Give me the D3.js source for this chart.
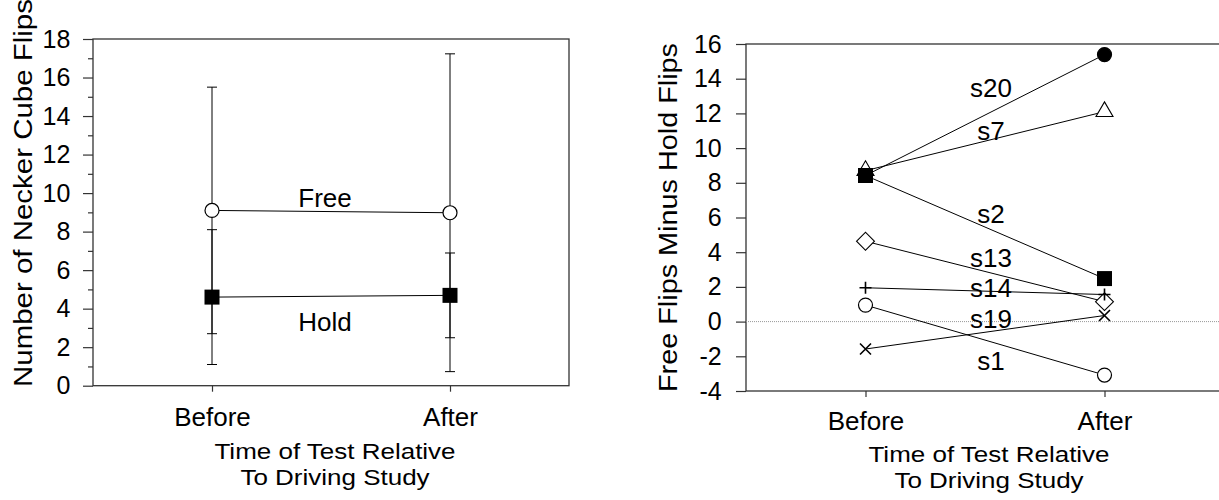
<!DOCTYPE html>
<html>
<head>
<meta charset="utf-8">
<script src="https://cdn.jsdelivr.net/npm/d3@7"></script>
<style>
  html, body { margin: 0; padding: 0; background: #fff; }
  svg { display: block; }
  text { font-family: "Liberation Sans", Arial, Helvetica, sans-serif; fill: #000; }
</style>
</head>
<body>
<svg id="chart" width="1219" height="500"></svg>
<script>
// ---------- data ----------
const timepoints = ["Before", "After"];

// left panel: group means and SDs
const freeMeans = [9.1, 8.98];
const freeSD = [6.4, 8.25];
const holdMeans = [4.6, 4.69];
const holdSD = [3.5, 2.2];
const leftTicks = [0, 2, 4, 6, 8, 10, 12, 14, 16, 18];
const leftMinorTicks = [1, 3, 5, 7, 9, 11, 13, 15, 17];
const groupLabels = ["Free", "Hold"];
const groupLabelAt = [9.29, 2.85];

// right panel: per-subject Free minus Hold
const subjects = ["s20", "s7", "s2", "s13", "s14", "s19", "s1"];
const beforeDiff = [8.42, 8.7, 8.42, 4.63, 1.95, -1.58, 0.95];
const afterDiff = [15.39, 12.1, 2.48, 1.15, 1.56, 0.35, -3.08];
const subjectMarkers = ["filledCircle", "triangle", "square", "diamond", "plus", "cross", "circle"];
const subjectLabelAt = [12.94, 10.44, 5.70, 3.13, 1.40, -0.39, -2.77];
const rightTicks = [-4, -2, 0, 2, 4, 6, 8, 10, 12, 14, 16];

const xTitleLines = ["Time of Test Relative", "To Driving Study"];
const leftYTitle = "Number of Necker Cube Flips";
const rightYTitle = "Free Flips Minus Hold Flips";

// ---------- drawing ----------
const svg = d3.select("#chart");
const TICKFONT = 25;
const LABELFONT = 26;
const axisColor = "#333";
const fmt = d => String(d);

function drawMarker(g, type, x, y) {
  if (type === "filledCircle" || type === "circle") {
    g.append("circle").attr("cx", x).attr("cy", y).attr("r", 7)
      .attr("fill", type === "filledCircle" ? "#000" : "#fff")
      .attr("stroke", "#000").attr("stroke-width", 1.2);
  } else if (type === "square") {
    g.append("path").attr("d", d3.symbol(d3.symbolSquare, 225)())
      .attr("transform", `translate(${x},${y})`).attr("fill", "#000");
  } else if (type === "triangle") {
    g.append("path").attr("d", d3.symbol(d3.symbolTriangle, 125)())
      .attr("transform", `translate(${x},${y})`)
      .attr("fill", "#fff").attr("stroke", "#000").attr("stroke-width", 1.1);
  } else if (type === "diamond") {
    g.append("path").attr("d", d3.symbol(d3.symbolSquare, 160)())
      .attr("transform", `translate(${x},${y}) rotate(45)`)
      .attr("fill", "#fff").attr("stroke", "#000").attr("stroke-width", 1.1);
  } else if (type === "plus") {
    const s = 6;
    g.append("path").attr("d", `M${x - s},${y}H${x + s}M${x},${y - s}V${y + s}`)
      .attr("stroke", "#000").attr("stroke-width", 1.6);
  } else if (type === "cross") {
    const s = 5.5;
    g.append("path").attr("d", `M${x - s},${y - s}L${x + s},${y + s}M${x - s},${y + s}L${x + s},${y - s}`)
      .attr("stroke", "#000").attr("stroke-width", 1.6);
  }
}

function styleAxis(size) {
  return g => {
    g.select(".domain").remove();
    g.selectAll(".tick line").attr("stroke", axisColor).attr("stroke-width", 1.2);
    g.selectAll(".tick text").attr("font-size", size).attr("fill", "#000");
  };
}

// two-line x title, glyphs slightly flattened like the reference
function xTitle(g, cx, y0, gap) {
  xTitleLines.forEach((line, i) => {
    g.append("text")
      .attr("transform", `translate(${cx},${y0 + i * gap}) scale(1,0.88)`)
      .attr("text-anchor", "middle").attr("font-size", LABELFONT).text(line);
  });
}

// ===== LEFT PANEL =====
const xL = d3.scalePoint().domain(timepoints).range([93, 569]).padding(0.5);
const yL = d3.scaleLinear().domain([0, 18]).range([385.7, 39]);
const L = svg.append("g");

L.append("g").attr("transform", `translate(${xL.range()[0]},0)`)
  .call(d3.axisLeft(yL).tickValues(leftTicks).tickSize(10).tickPadding(12.6).tickFormat(fmt))
  .call(styleAxis(TICKFONT));
L.append("g").attr("transform", `translate(${xL.range()[0]},0)`)
  .call(d3.axisLeft(yL).tickValues(leftMinorTicks).tickSize(5).tickFormat(""))
  .call(styleAxis(TICKFONT));
L.append("g").attr("transform", `translate(0,${yL.range()[0]})`)
  .call(d3.axisBottom(xL).tickSize(6).tickPadding(16))
  .call(styleAxis(LABELFONT));

L.append("rect")
  .attr("x", xL.range()[0]).attr("y", yL.range()[1])
  .attr("width", xL.range()[1] - xL.range()[0]).attr("height", yL.range()[0] - yL.range()[1])
  .attr("fill", "none").attr("stroke", axisColor).attr("stroke-width", 1.3);

// error bars
const groups = [
  { means: freeMeans, sd: freeSD, marker: "circle" },
  { means: holdMeans, sd: holdSD, marker: "square" }
];
groups.forEach(gr => {
  timepoints.forEach((t, i) => {
    const x = xL(t), lo = yL(gr.means[i] - gr.sd[i]), hi = yL(gr.means[i] + gr.sd[i]);
    L.append("path")
      .attr("d", `M${x},${lo}V${hi}M${x - 5},${lo}H${x + 5}M${x - 5},${hi}H${x + 5}`)
      .attr("stroke", "#000").attr("stroke-width", 1).attr("fill", "none");
  });
});
groups.forEach(gr => {
  L.append("path")
    .attr("d", d3.line()(timepoints.map((t, i) => [xL(t), yL(gr.means[i])])))
    .attr("stroke", "#000").attr("stroke-width", 1).attr("fill", "none");
});
groups.forEach(gr => {
  timepoints.forEach((t, i) => drawMarker(L, gr.marker, xL(t), yL(gr.means[i])));
});
groupLabels.forEach((lab, i) => {
  L.append("text").attr("x", (xL("Before") + xL("After")) / 2 - 6).attr("y", yL(groupLabelAt[i]))
    .attr("text-anchor", "middle").attr("font-size", LABELFONT).text(lab);
});

// axis titles
L.append("text").attr("transform", `translate(32,387) rotate(-90)`)
  .attr("text-anchor", "start").attr("font-size", 26)
  .attr("textLength", 388).attr("lengthAdjust", "spacingAndGlyphs").text(leftYTitle);
xTitle(L, (xL.range()[0] + xL.range()[1]) / 2 + 4, 459, 26);

// ===== RIGHT PANEL =====
const xR = d3.scalePoint().domain(timepoints).range([746, 1224]).padding(0.5);
const yR = d3.scaleLinear().domain([-4, 16]).range([391, 44]);
const R = svg.append("g");

R.append("g").attr("transform", `translate(${xR.range()[0]},0)`)
  .call(d3.axisLeft(yR).tickValues(rightTicks).tickSize(10).tickPadding(14.3).tickFormat(fmt))
  .call(styleAxis(TICKFONT));
R.append("g").attr("transform", `translate(0,${yR.range()[0]})`)
  .call(d3.axisBottom(xR).tickSize(6).tickPadding(14.5))
  .call(styleAxis(LABELFONT));

R.append("rect")
  .attr("x", xR.range()[0]).attr("y", yR.range()[1])
  .attr("width", xR.range()[1] - xR.range()[0]).attr("height", yR.range()[0] - yR.range()[1])
  .attr("fill", "none").attr("stroke", axisColor).attr("stroke-width", 1.3);

// zero reference line
R.append("line")
  .attr("x1", xR.range()[0]).attr("x2", xR.range()[1])
  .attr("y1", yR(0)).attr("y2", yR(0))
  .attr("stroke", "#999").attr("stroke-width", 1).attr("stroke-dasharray", "1,1");

subjects.forEach((s, i) => {
  R.append("path")
    .attr("d", d3.line()([[xR("Before"), yR(beforeDiff[i])], [xR("After"), yR(afterDiff[i])]]))
    .attr("stroke", "#000").attr("stroke-width", 1).attr("fill", "none");
});
// the Before square (s2) sits on top of the other Before markers
const order = [0, 1, 3, 4, 5, 6, 2];
order.forEach(i => {
  drawMarker(R, subjectMarkers[i], xR("Before"), yR(beforeDiff[i]));
  drawMarker(R, subjectMarkers[i], xR("After"), yR(afterDiff[i]));
});
subjects.forEach((s, i) => {
  R.append("text").attr("x", (xR("Before") + xR("After")) / 2 + 6).attr("y", yR(subjectLabelAt[i]))
    .attr("text-anchor", "middle").attr("font-size", LABELFONT).text(s);
});

R.append("text").attr("transform", `translate(677,392) rotate(-90)`)
  .attr("text-anchor", "start").attr("font-size", 26)
  .attr("textLength", 349).attr("lengthAdjust", "spacingAndGlyphs").text(rightYTitle);
xTitle(R, (xR("Before") + xR("After")) / 2 + 4, 462, 25.5);
</script>
</body>
</html>
